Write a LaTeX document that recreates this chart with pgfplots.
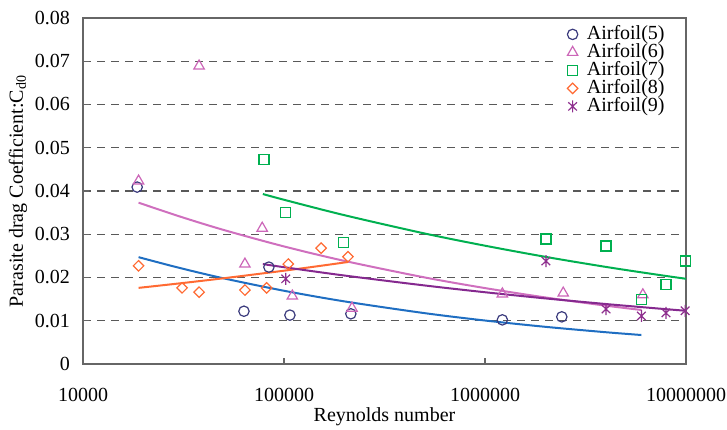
\documentclass[border=0pt]{standalone}
\usepackage{fontspec}
\setmainfont{Liberation Serif}
\usepackage{pgfplots}
\pgfplotsset{compat=1.18}
\definecolor{cnavy}{HTML}{3B3B7D}
\definecolor{cpink}{HTML}{CC66B8}
\definecolor{cgreen}{HTML}{00B050}
\definecolor{corange}{HTML}{FF6A33}
\definecolor{cpurple}{HTML}{8E2F8E}
\definecolor{lblue}{HTML}{1F6EC2}
\definecolor{lpink}{HTML}{CF6FBE}
\definecolor{lpurple}{HTML}{85298F}
\pgfdeclareplotmark{vx}{%
  \pgfpathmoveto{\pgfqpoint{0pt}{\pgfplotmarksize}}%
  \pgfpathlineto{\pgfqpoint{0pt}{-\pgfplotmarksize}}%
  \pgfpathmoveto{\pgfqpoint{0.72\pgfplotmarksize}{0.69\pgfplotmarksize}}%
  \pgfpathlineto{\pgfqpoint{-0.72\pgfplotmarksize}{-0.69\pgfplotmarksize}}%
  \pgfpathmoveto{\pgfqpoint{-0.72\pgfplotmarksize}{0.69\pgfplotmarksize}}%
  \pgfpathlineto{\pgfqpoint{0.72\pgfplotmarksize}{-0.69\pgfplotmarksize}}%
  \pgfusepathqstroke}
\begin{document}
\begin{tikzpicture}
\begin{axis}[
  scale only axis, width=301.5pt, height=173pt,
  xmode=log, xmin=10000, xmax=10000000, ymin=0, ymax=0.08,
  xtick={10000,100000,1000000,10000000},
  xticklabels={10000,100000,1000000,10000000},
  xminorticks=false,
  scaled y ticks=false,
  ytick={0,0.01,0.02,0.03,0.04,0.05,0.06,0.07,0.08},
  yticklabels={0,0.01,0.02,0.03,0.04,0.05,0.06,0.07,0.08},
  /pgf/number format/assume math mode=true,
  xtick pos=bottom, ytick pos=left, tick align=inside, major tick length=3pt,
  axis line style={draw=black!60, line width=0.8pt},
  tick style={draw=black!60, line width=0.7pt},
  xticklabel style={yshift=-8.5pt},
  yticklabel style={xshift=-3pt},
  ymajorgrids, grid style={black!65, line width=0.55pt, dash pattern=on 4pt off 3pt},
  xlabel={Reynolds number},
  ylabel={Parasite drag Coefficient:C\textsubscript{d0}},
  xlabel style={at={(axis description cs:0.5,0)}, anchor=center, yshift=-26.5pt},
  ylabel style={at={(axis description cs:-0.1078,0.5)}, anchor=center},
  legend image code/.code={\draw[mark repeat=1,mark phase=1,#1] plot coordinates {(0.1cm,0cm)};},
  legend cell align=left,
  legend style={at={(axis description cs:0.7794,0.9942)}, anchor=north west,
    fill=white, draw=none, inner xsep=7pt, inner ysep=2.5pt, column sep=4.5pt,
    nodes={inner ysep=0pt, inner xsep=0pt, text height=6.9pt, text depth=2.1pt}},
]
% trend lines
\addplot[forget plot, lblue, line width=1pt, smooth] coordinates {
(18900,0.0247) (30000,0.02225) (50000,0.01981) (100000,0.01693) (200000,0.01447)
(500000,0.01176) (1000000,0.01005) (2000000,0.00859) (4000000,0.00734) (6000000,0.0067)};
\addplot[forget plot, lpink, line width=1pt, smooth] coordinates {
(18900,0.0373) (30000,0.03417) (50000,0.0310) (100000,0.02718) (200000,0.02383)
(500000,0.02002) (1000000,0.01755) (2000000,0.01538) (4000000,0.01348) (6000000,0.01249)};
\addplot[forget plot, cgreen, line width=1pt, smooth] coordinates {
(78500,0.0393) (100000,0.03797) (200000,0.0344) (500000,0.03018) (1000000,0.02735)
(2000000,0.02477) (4000000,0.02244) (7000000,0.02073) (10000000,0.0197)};
\addplot[forget plot, corange, line width=1pt, smooth] coordinates {
(18900,0.0176) (30000,0.01862) (50000,0.01982) (100000,0.02157) (150000,0.02266) (208000,0.02358)};
\addplot[forget plot, lpurple, line width=1pt, smooth] coordinates {
(78500,0.0231) (100000,0.02238) (200000,0.02045) (500000,0.01816) (1000000,0.01659)
(2000000,0.01516) (4000000,0.01386) (7000000,0.01289) (10000000,0.0123)};
% data
\addplot[only marks, mark=o, mark size=2.6pt, cnavy, mark options={line width=0.6pt}] coordinates {
(18600,0.0409) (63200,0.0122) (84100,0.0224) (107000,0.0113) (215000,0.0116) (1220000,0.0102) (2410000,0.0109)};
\addlegendentry{Airfoil(5)\hspace{12pt}}
\addplot[only marks, mark=triangle, mark size=3pt, cpink, mark options={line width=0.6pt}] coordinates {
(18900,0.0423) (37800,0.0689) (63900,0.0231) (77900,0.0314) (110000,0.0157) (218000,0.0129) (1220000,0.0162) (2450000,0.0164) (6100000,0.0160)};
\addlegendentry{Airfoil(6)}
\addplot[only marks, mark=square, mark size=2.5pt, cgreen, mark options={line width=0.6pt}] coordinates {
(79500,0.0472) (102000,0.0351) (197000,0.0280) (2010000,0.0289) (4000000,0.0273) (6000000,0.0150) (7950000,0.0183) (9900000,0.0238)};
\addlegendentry{Airfoil(7)}
\addplot[only marks, mark=square, mark size=1.85pt, corange, mark options={line width=0.6pt, rotate=45}] coordinates {
(18900,0.0227) (31100,0.0176) (37800,0.0166) (63900,0.0171) (82000,0.0176) (105000,0.0231) (153000,0.0268) (208000,0.0248)};
\addlegendentry{Airfoil(8)}
\addplot[only marks, mark=vx, mark size=3pt, cpurple, mark options={line width=0.6pt}] coordinates {
(102000,0.0197) (2010000,0.0238) (4000000,0.0127) (6000000,0.0111) (7950000,0.0118) (9900000,0.0123)};
\addlegendentry{Airfoil(9)}
\coordinate (SW) at (rel axis cs:0,0);
\coordinate (NE) at (rel axis cs:1,1);
\end{axis}
\pgfresetboundingbox
\path ([shift={(-41.5pt,-33pt)}]SW) rectangle ([shift={(20.5pt,9pt)}]NE);
\end{tikzpicture}
\end{document}
